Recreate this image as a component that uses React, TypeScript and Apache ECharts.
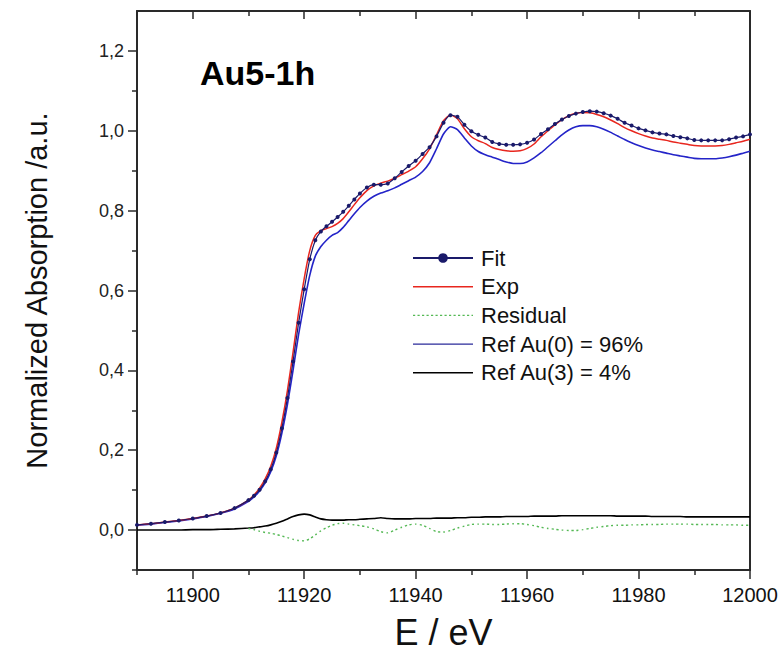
import React, { useEffect, useRef } from 'react';
import * as echarts from 'echarts';

// Energy grid (eV)
const energy = [
  11890, 11892.5, 11895, 11897.5, 11900, 11902.5, 11905, 11907.5, 11910,
  11911, 11912, 11913, 11914, 11915, 11916, 11917, 11918, 11919, 11920,
  11921, 11922, 11923, 11924, 11925, 11926, 11927, 11928, 11929, 11930,
  11931.25, 11932.5, 11933.75, 11935, 11936.25, 11937.5, 11938.75, 11940,
  11941.25, 11942.5, 11943.75, 11945, 11946.25, 11947.5, 11948.75, 11950,
  11951.25, 11952.5, 11953.75, 11955, 11956.25, 11957.5, 11958.75, 11960,
  11961.25, 11962.5, 11963.75, 11965, 11966.25, 11967.5, 11968.75, 11970,
  11971.25, 11972.5, 11973.75, 11975, 11976.25, 11977.5, 11978.75, 11980,
  11981.25, 11982.5, 11983.75, 11985, 11986.25, 11987.5, 11988.75, 11990,
  11991.25, 11992.5, 11993.75, 11995, 11996.25, 11997.5, 11998.75, 12000,
];

const fitValues = [
  0.013, 0.016, 0.020, 0.024, 0.029, 0.035, 0.043, 0.055, 0.075,
  0.086, 0.101, 0.122, 0.152, 0.194, 0.255, 0.331, 0.422, 0.519, 0.603,
  0.678, 0.726, 0.748, 0.761, 0.772, 0.784, 0.797, 0.812, 0.828, 0.843,
  0.858, 0.865, 0.865, 0.868, 0.881, 0.897, 0.912, 0.925,
  0.942, 0.959, 0.986, 1.020, 1.039, 1.035, 1.015, 0.999,
  0.990, 0.983, 0.972, 0.967, 0.965, 0.965, 0.966, 0.970,
  0.978, 0.992, 1.004, 1.017, 1.028, 1.037, 1.043, 1.047,
  1.049, 1.048, 1.044, 1.038, 1.030, 1.020, 1.013, 1.006,
  1.001, 0.996, 0.993, 0.991, 0.987, 0.984, 0.981, 0.977,
  0.976, 0.976, 0.976, 0.976, 0.979, 0.983, 0.986, 0.991,
];

const expValues = [
  0.013, 0.016, 0.020, 0.024, 0.029, 0.035, 0.043, 0.055, 0.075,
  0.088, 0.105, 0.128, 0.160, 0.205, 0.270, 0.350, 0.445, 0.545, 0.630,
  0.700, 0.738, 0.750, 0.755, 0.760, 0.768, 0.780, 0.797, 0.815, 0.832,
  0.850, 0.862, 0.869, 0.874, 0.881, 0.890, 0.899, 0.910,
  0.930, 0.955, 0.990, 1.025, 1.040, 1.030, 1.005, 0.985,
  0.975, 0.968, 0.958, 0.953, 0.950, 0.949, 0.950, 0.956,
  0.967, 0.985, 1.000, 1.015, 1.028, 1.038, 1.044, 1.046,
  1.045, 1.041, 1.035, 1.027, 1.018, 1.008, 1.000, 0.993,
  0.987, 0.982, 0.979, 0.976, 0.972, 0.969, 0.966, 0.963,
  0.962, 0.962, 0.962, 0.963, 0.966, 0.970, 0.974, 0.979,
];

const residualValues = [
  null, null, null, null, null, null, null, null, 0.004,
  0.001, -0.003, -0.006, -0.008, -0.011, -0.015, -0.019, -0.023, -0.026, -0.027,
  -0.022, -0.012, -0.002, 0.006, 0.012, 0.016, 0.017, 0.015, 0.013, 0.011,
  0.008, 0.003, -0.004, -0.007, 0.000, 0.007, 0.013, 0.015,
  0.012, 0.004, -0.004, -0.005, -0.001, 0.005, 0.010, 0.014,
  0.015, 0.015, 0.014, 0.014, 0.015, 0.016, 0.016, 0.014,
  0.011, 0.007, 0.004, 0.002, 0.000, -0.001, -0.001, 0.001,
  0.004, 0.007, 0.009, 0.011, 0.012, 0.012, 0.013, 0.013,
  0.014, 0.014, 0.014, 0.015, 0.015, 0.015, 0.015, 0.014,
  0.014, 0.014, 0.014, 0.013, 0.013, 0.013, 0.012, 0.012,
];

const refAu0Values = [
  0.012, 0.015, 0.019, 0.023, 0.028, 0.034, 0.042, 0.053, 0.072,
  0.083, 0.098, 0.118, 0.146, 0.186, 0.243, 0.315, 0.400, 0.490, 0.568,
  0.638, 0.686, 0.710, 0.726, 0.738, 0.745, 0.758, 0.775, 0.792, 0.808,
  0.824, 0.836, 0.844, 0.850, 0.857, 0.866, 0.875, 0.884,
  0.898, 0.920, 0.955, 0.992, 1.010, 1.003, 0.982, 0.962,
  0.948, 0.940, 0.934, 0.928, 0.922, 0.918, 0.918, 0.922,
  0.932, 0.945, 0.960, 0.975, 0.990, 1.002, 1.010, 1.013,
  1.013, 1.010, 1.004, 0.996, 0.987, 0.978, 0.970, 0.963,
  0.957, 0.952, 0.948, 0.944, 0.940, 0.937, 0.934, 0.931,
  0.930, 0.930, 0.930, 0.932, 0.935, 0.939, 0.944, 0.949,
];

const refAu3Values = [
  0.000, 0.000, 0.000, 0.000, 0.001, 0.001, 0.002, 0.003, 0.005,
  0.006, 0.008, 0.010, 0.013, 0.017, 0.022, 0.028, 0.034, 0.038, 0.040,
  0.038, 0.033, 0.028, 0.026, 0.025, 0.025, 0.025, 0.026, 0.026, 0.027,
  0.028, 0.029, 0.031, 0.029, 0.028, 0.028, 0.028, 0.029,
  0.029, 0.029, 0.030, 0.030, 0.030, 0.031, 0.031, 0.032,
  0.032, 0.033, 0.033, 0.033, 0.034, 0.034, 0.034, 0.034,
  0.035, 0.035, 0.035, 0.035, 0.036, 0.036, 0.036, 0.036,
  0.036, 0.036, 0.036, 0.036, 0.035, 0.035, 0.035, 0.035,
  0.035, 0.034, 0.034, 0.034, 0.034, 0.034, 0.033, 0.033,
  0.033, 0.033, 0.033, 0.033, 0.033, 0.033, 0.033, 0.033,
];

const seriesNames = ['Fit', 'Exp', 'Residual', 'Ref Au(0) = 96%', 'Ref Au(3) = 4%'];
const xTickValues = [11900, 11920, 11940, 11960, 11980, 12000];
const xMinorTickValues = [11890, 11910, 11930, 11950, 11970, 11990];
const yTickValues = [0, 0.2, 0.4, 0.6, 0.8, 1.0, 1.2];
const yMinorTickValues = [-0.1, 0.1, 0.3, 0.5, 0.7, 0.9, 1.1];
const chartTitle = 'Au5-1h';
const xAxisTitle = 'E / eV';
const yAxisTitle = 'Normalized Absorption /a.u.';

const FONT = '"Liberation Sans", Arial, sans-serif';
const AXIS_COLOR = '#2a2a2a';

// legend icon shapes (60 x 12 box)
const LEG_W = 60;
const LEG_H = 12;
const solidIcon = `path://M0,0 M${LEG_W},${LEG_H} M0,5.3 L${LEG_W},5.3 L${LEG_W},6.7 L0,6.7 Z`;
function dashedIcon() {
  let d = `path://M0,0 M${LEG_W},${LEG_H}`;
  for (let x = 0; x < LEG_W; x += 4.5) {
    const x2 = Math.min(x + 2.2, LEG_W);
    d += ` M${x},5.4 L${x2},5.4 L${x2},6.6 L${x},6.6 Z`;
  }
  return d;
}

function pairs(values: (number | null)[]) {
  const out: [number, number][] = [];
  energy.forEach((e, i) => {
    const v = values[i];
    if (v !== null && v !== undefined) out.push([e, v]);
  });
  return out;
}

export default function App() {
  const ref = useRef<HTMLDivElement>(null);

  useEffect(() => {
    if (!ref.current) return;
    const chart = echarts.init(ref.current, undefined, { renderer: 'svg' });

    const xBase = () => ({
      type: 'value' as const,
      min: 11890,
      max: 12000,
      interval: 10,
      splitLine: { show: false },
    });
    const yBase = () => ({
      type: 'value' as const,
      min: -0.1,
      max: 1.3,
      interval: 0.1,
      splitLine: { show: false },
    });
    const tickLine = () => ({ color: AXIS_COLOR, width: 1.5 });

    chart.setOption({
      animation: false,
      backgroundColor: '#ffffff',
      title: {
        text: chartTitle,
        left: 200,
        top: 56,
        padding: 0,
        textStyle: { fontFamily: FONT, fontSize: 34, fontWeight: 'bold', color: '#000' },
      },
      grid: { left: 137, right: 32, top: 11, bottom: 87, containLabel: false },
      legend: {
        orient: 'vertical',
        left: 412,
        top: 247,
        padding: 0,
        itemWidth: LEG_W,
        itemHeight: LEG_H,
        itemGap: 6.7,
        data: [
          { name: seriesNames[0] },
          { name: seriesNames[1], icon: solidIcon, itemStyle: { borderWidth: 0 } },
          { name: seriesNames[2], icon: dashedIcon(), itemStyle: { borderWidth: 0 } },
          { name: seriesNames[3], icon: solidIcon, itemStyle: { borderWidth: 0 } },
          { name: seriesNames[4], icon: solidIcon, itemStyle: { borderWidth: 0 } },
        ],
        textStyle: { fontFamily: FONT, fontSize: 22, color: '#111', lineHeight: 22, padding: [0, 0, 0, 3] },
      },
      xAxis: [
        {
          ...xBase(),
          position: 'bottom',
          name: xAxisTitle,
          nameLocation: 'middle',
          nameGap: 44,
          nameTextStyle: { fontFamily: FONT, fontSize: 36, color: '#111' },
          axisLine: { show: true, onZero: false, lineStyle: { color: AXIS_COLOR, width: 2 } },
          axisTick: { show: true, inside: false, length: 9, customValues: [...xTickValues], lineStyle: tickLine() },
          axisLabel: {
            show: true,
            customValues: [...xTickValues],
            margin: 15,
            fontFamily: FONT,
            fontSize: 20,
            color: '#111',
            formatter: (v: number) => String(v),
          },
        },
        {
          ...xBase(),
          position: 'bottom',
          axisLine: { show: false, onZero: false },
          axisTick: { show: true, inside: false, length: 5, customValues: [...xMinorTickValues], lineStyle: tickLine() },
          axisLabel: { show: false },
        },
        {
          ...xBase(),
          position: 'top',
          axisLine: { show: true, onZero: false, lineStyle: { color: AXIS_COLOR, width: 2 } },
          axisTick: { show: true, inside: true, length: 8, customValues: [...xTickValues], lineStyle: tickLine() },
          axisLabel: { show: false },
        },
        {
          ...xBase(),
          position: 'top',
          axisLine: { show: false, onZero: false },
          axisTick: { show: true, inside: true, length: 5, customValues: [...xMinorTickValues], lineStyle: tickLine() },
          axisLabel: { show: false },
        },
      ],
      yAxis: [
        {
          ...yBase(),
          position: 'left',
          name: yAxisTitle,
          nameLocation: 'middle',
          nameGap: 86,
          nameTextStyle: { fontFamily: FONT, fontSize: 29, color: '#111' },
          axisLine: { show: true, onZero: false, lineStyle: { color: AXIS_COLOR, width: 2 } },
          axisTick: { show: true, inside: false, length: 9, customValues: [...yTickValues], lineStyle: tickLine() },
          axisLabel: {
            show: true,
            customValues: [...yTickValues],
            margin: 13,
            fontFamily: FONT,
            fontSize: 18,
            color: '#222',
            formatter: (v: number) => v.toFixed(1).replace('.', ','),
          },
        },
        {
          ...yBase(),
          position: 'left',
          axisLine: { show: false, onZero: false },
          axisTick: { show: true, inside: false, length: 5, customValues: [...yMinorTickValues], lineStyle: tickLine() },
          axisLabel: { show: false },
        },
        {
          ...yBase(),
          position: 'right',
          axisLine: { show: true, onZero: false, lineStyle: { color: AXIS_COLOR, width: 2 } },
          axisTick: { show: false },
          axisLabel: { show: false },
        },
      ],
      series: [
        {
          name: seriesNames[4],
          type: 'line',
          data: pairs(refAu3Values),
          symbol: 'none',
          smooth: 0.2,
          lineStyle: { color: '#000000', width: 1.6 },
          itemStyle: { color: '#000000' },
        },
        {
          name: seriesNames[2],
          type: 'line',
          data: pairs(residualValues),
          symbol: 'none',
          smooth: 0.2,
          lineStyle: { color: '#55b955', width: 1.4, type: [2, 3] },
          itemStyle: { color: '#55b955' },
        },
        {
          name: seriesNames[3],
          type: 'line',
          data: pairs(refAu0Values),
          symbol: 'none',
          smooth: 0.2,
          lineStyle: { color: '#2424c8', width: 1.6 },
          itemStyle: { color: '#2a2a9a' },
        },
        {
          name: seriesNames[1],
          type: 'line',
          data: pairs(expValues),
          symbol: 'none',
          smooth: 0.2,
          lineStyle: { color: '#e8261e', width: 1.5 },
          itemStyle: { color: '#e8261e' },
        },
        {
          name: seriesNames[0],
          type: 'line',
          data: pairs(fitValues),
          symbol: 'circle',
          symbolSize: 4,
          showSymbol: true,
          smooth: 0.2,
          lineStyle: { color: '#1a1a6a', width: 1.2 },
          itemStyle: { color: '#1a1a6a' },
        },
      ],
    });

    return () => chart.dispose();
  }, []);

  return (
    <div
      ref={ref}
      style={{ position: 'fixed', left: 0, top: 0, width: 782, height: 657, background: '#fff' }}
    />
  );
}
